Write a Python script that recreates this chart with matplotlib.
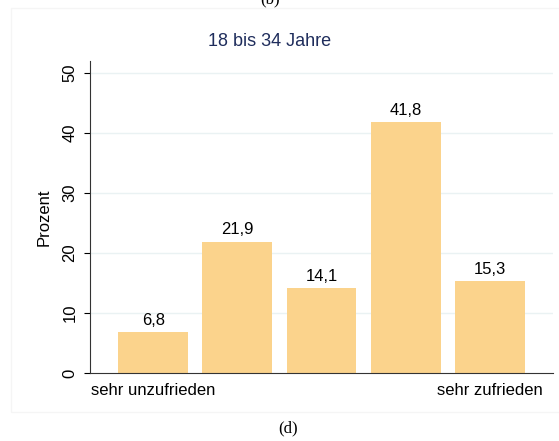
import matplotlib
matplotlib.use("Agg")
import matplotlib.pyplot as plt
from matplotlib.patches import Rectangle

# data
categories = ["sehr unzufrieden", "", "", "", "sehr zufrieden"]
values = [6.8, 21.9, 14.1, 41.8, 15.3]
labels = ["6,8", "21,9", "14,1", "41,8", "15,3"]
yticks = [0, 10, 20, 30, 40, 50]

plt.rcParams['font.family'] = ['Liberation Sans', 'DejaVu Sans']

fig = plt.figure(figsize=(5.59, 4.41), dpi=100)
fig.patch.set_facecolor('white')

# very faint graph region border (Stata style)
fig.patches.append(Rectangle((11/559, 1 - 412/441), 1.0, (412 - 8)/441,
                             transform=fig.transFigure, fill=False,
                             edgecolor='#F5F5F5', lw=1))

ax = fig.add_axes([90/559, 1 - 373/441, (553 - 90)/559, (373 - 61)/441])
x = list(range(len(values)))
bars = ax.bar(x, values, width=0.83, color='#FBD38C', zorder=2)
for xi, v, lab in zip(x, values, labels):
    ax.annotate(lab, (xi, v), xytext=(0, 3), textcoords='offset points',
                ha='center', va='bottom', fontsize=12, color='black')

ax.set_xlim(-0.75, 4.75)
ax.set_ylim(0, 52)
ax.set_yticks(yticks)
ax.set_yticklabels([str(t) for t in yticks], rotation=90, va='center', fontsize=12)
ax.set_xticks(x)
ax.set_xticklabels(categories, fontsize=12)
ax.tick_params(axis='x', length=0, pad=7)
ax.tick_params(axis='y', length=4, width=0.8, pad=5)
for t in yticks[1:]:
    ax.axhline(t, color='#EAF2F3', lw=1, zorder=1)
ax.spines['top'].set_visible(False)
ax.spines['right'].set_visible(False)
ax.spines['left'].set_color('#333333')
ax.spines['bottom'].set_color('#333333')
ax.set_ylabel("Prozent", fontsize=12, labelpad=8)

fig.text(270/559, 1 - 42/441, "18 bis 34 Jahre", ha='center', va='center',
         fontsize=13, color='#1F2D5C')
fig.text(288/559, 1 - 428/441, "(d)", ha='center', va='center',
         fontsize=12, family=['Liberation Serif', 'DejaVu Serif'])
fig.text(270/559, 1 - 3/441, "(b)", ha='center', va='baseline',
         fontsize=12, family=['Liberation Serif', 'DejaVu Serif'])

fig.savefig("out.png", dpi=100)
